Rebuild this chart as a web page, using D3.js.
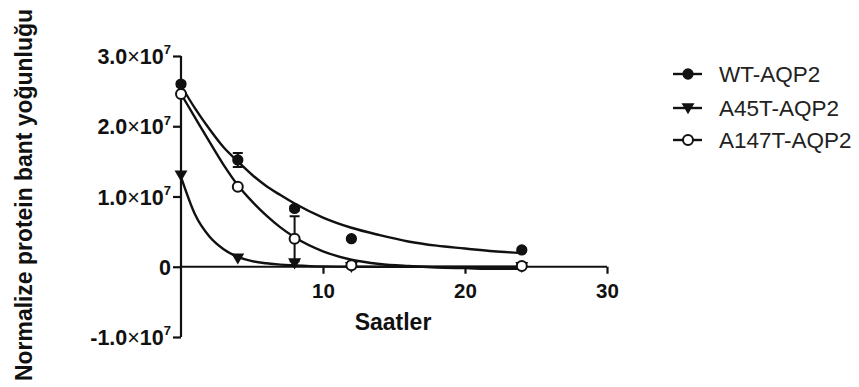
<!DOCTYPE html>
<html><head><meta charset="utf-8">
<script src="https://cdn.jsdelivr.net/npm/d3@7"></script>
<style>
html,body{margin:0;padding:0;background:#fff;}
svg{display:block;font-family:"Liberation Sans",Arial,sans-serif;}
</style></head>
<body><svg id="c" width="859" height="387"></svg>
<script>
// ---- data ----
const seriesNames = ["WT-AQP2", "A45T-AQP2", "A147T-AQP2"];
const times = [0, 4, 8, 12, 24];
const wtMean = [2.60e7, 1.52e7, 0.83e7, 0.40e7, 0.24e7];
const wtErr = [0.03e7, 0.10e7, 0.03e7, 0, 0];
const a45Mean = [1.30e7, 0.12e7, 0.05e7, 0, 0];
const a45Err = [0, 0, 0, 0, 0];
const a147Mean = [2.46e7, 1.14e7, 0.40e7, 0.02e7, 0.01e7];
const a147Err = [0, 0, 0.32e7, 0, 0];
// fitted curves
const fitTimes = [0, 1, 2, 3, 4, 5, 6, 7, 8, 10, 12, 14, 16, 18, 20, 22, 24];
const wtFit = [2.58e7, 2.25e7, 1.96e7, 1.70e7, 1.50e7, 1.31e7, 1.15e7, 1.02e7, 0.90e7, 0.70e7, 0.555e7, 0.45e7, 0.36e7, 0.30e7, 0.26e7, 0.22e7, 0.195e7];
const a45Fit = [1.28e7, 0.74e7, 0.43e7, 0.25e7, 0.14e7, 0.08e7, 0.05e7, 0.03e7, 0.02e7, 0.005e7, 0, 0, 0, 0, 0, 0, 0];
const a147Fit = [2.46e7, 2.12e7, 1.78e7, 1.45e7, 1.16e7, 0.93e7, 0.73e7, 0.56e7, 0.42e7, 0.22e7, 0.10e7, 0.04e7, 0.01e7, -0.01e7, -0.02e7, -0.03e7, -0.03e7];
const yTicks = [-1e7, 0, 1e7, 2e7, 3e7];
const yTickMant = ["-1.0", "0", "1.0", "2.0", "3.0"];
const xTicks = [10, 20, 30];
const xTitle = "Saatler";
const yTitle = "Normalize protein bant yoğunluğu";

// ---- drawing ----
const svg = d3.select("#c");
const x = d3.scaleLinear().domain([0, 30]).range([181, 607]);
const y = d3.scaleLinear().domain([-1e7, 3e7]).range([337, 56]);
const ink = "#111";
const ff = "Liberation Sans, Arial, sans-serif";

// axes
const xAxis = d3.axisBottom(x).tickValues(xTicks).tickSize(7).tickFormat(d3.format("d"));
const gx = svg.append("g").attr("transform", `translate(0,${y(0)})`).call(xAxis);
gx.select(".domain").attr("d", `M${x(0)},0H${x(30)}`).attr("stroke", ink).attr("stroke-width", 2.2);
gx.selectAll(".tick line").attr("stroke", ink).attr("stroke-width", 2.2);
gx.selectAll(".tick text").attr("fill", ink).attr("font-size", 20.5).attr("font-weight", "bold")
  .attr("font-family", ff).attr("y", 31).attr("dy", 0);

const yAxis = d3.axisLeft(y).tickValues(yTicks).tickSize(8).tickFormat(() => "");
const gy = svg.append("g").attr("transform", `translate(${x(0)},0)`).call(yAxis);
gy.select(".domain").attr("d", `M0,${y(3e7)}V${y(-1e7)}`).attr("stroke", ink).attr("stroke-width", 2.2);
gy.selectAll(".tick line").attr("stroke", ink).attr("stroke-width", 2.2);
gy.selectAll(".tick").each(function(d, i) {
  const t = d3.select(this).select("text").text(null)
    .attr("fill", ink).attr("font-size", 21.5).attr("font-weight", "bold")
    .attr("font-family", ff)
    .attr("x", -10).attr("y", 7.5).attr("dy", 0).attr("text-anchor", "end");
  if (d === 0) { t.text("0"); return; }
  t.append("tspan").text(yTickMant[i]);
  t.append("tspan").attr("font-weight", "normal").text("×");
  t.append("tspan").text("10");
  t.append("tspan").attr("font-size", 13).attr("dy", "-0.75em").text("7");
});

// titles
svg.append("text").attr("x", x(15) - 1).attr("y", 330).attr("text-anchor", "middle")
  .attr("font-size", 23).attr("font-weight", "bold").attr("fill", ink).text(xTitle);
svg.append("text").attr("transform", `translate(32,195) rotate(-90)`).attr("text-anchor", "middle")
  .attr("font-size", 23).attr("font-weight", "bold").attr("fill", ink)
  .attr("textLength", 372).attr("lengthAdjust", "spacingAndGlyphs").text(yTitle);

// curves
const line = d3.line().x(d => x(d[0])).y(d => y(d[1])).curve(d3.curveMonotoneX);
[wtFit, a45Fit, a147Fit].forEach(arr => {
  svg.append("path").attr("d", line(fitTimes.map((t, i) => [t, arr[i]])))
    .attr("fill", "none").attr("stroke", ink).attr("stroke-width", 2.4);
});

// markers
const circleSym = d3.symbol().type(d3.symbolCircle).size(100);
function triPath(cx, cy, s) { // downward triangle
  return `M${cx - s},${cy - s * 0.75}L${cx + s},${cy - s * 0.75}L${cx},${cy + s * 0.95}Z`;
}
function drawSeries(means, errs, kind) {
  times.forEach((t, i) => {
    const cx = x(t), cy = y(means[i]);
    if (errs[i] > 0) {
      const y1 = y(means[i] + errs[i]), y2 = y(means[i] - errs[i]);
      svg.append("path").attr("d", `M${cx},${y1}V${y2}M${cx - 5},${y1}H${cx + 5}M${cx - 5},${y2}H${cx + 5}`)
        .attr("stroke", ink).attr("stroke-width", 2).attr("fill", "none");
    }
    drawMarker(cx, cy, kind);
  });
}
function drawMarker(cx, cy, kind) {
  if (kind === "filled") {
    svg.append("path").attr("d", circleSym()).attr("transform", `translate(${cx},${cy})`).attr("fill", ink);
  } else if (kind === "open") {
    svg.append("circle").attr("cx", cx).attr("cy", cy).attr("r", 5)
      .attr("fill", "#fff").attr("stroke", ink).attr("stroke-width", 2);
  } else {
    svg.append("path").attr("d", triPath(cx, cy, 6.5)).attr("fill", ink);
  }
}
drawSeries(a45Mean, a45Err, "tri");
drawSeries(a147Mean, a147Err, "open");
drawSeries(wtMean, wtErr, "filled");

// legend
const kinds = ["filled", "tri", "open"];
const legY = [74, 108, 140];
seriesNames.forEach((n, i) => {
  svg.append("line").attr("x1", 673).attr("x2", 702).attr("y1", legY[i]).attr("y2", legY[i])
    .attr("stroke", ink).attr("stroke-width", 2.4);
  drawMarker(688, legY[i], kinds[i]);
  svg.append("text").attr("x", 719).attr("y", legY[i]).attr("dy", "0.36em")
    .attr("font-size", 22.5).attr("fill", "#222").text(n);
});
</script></body></html>
